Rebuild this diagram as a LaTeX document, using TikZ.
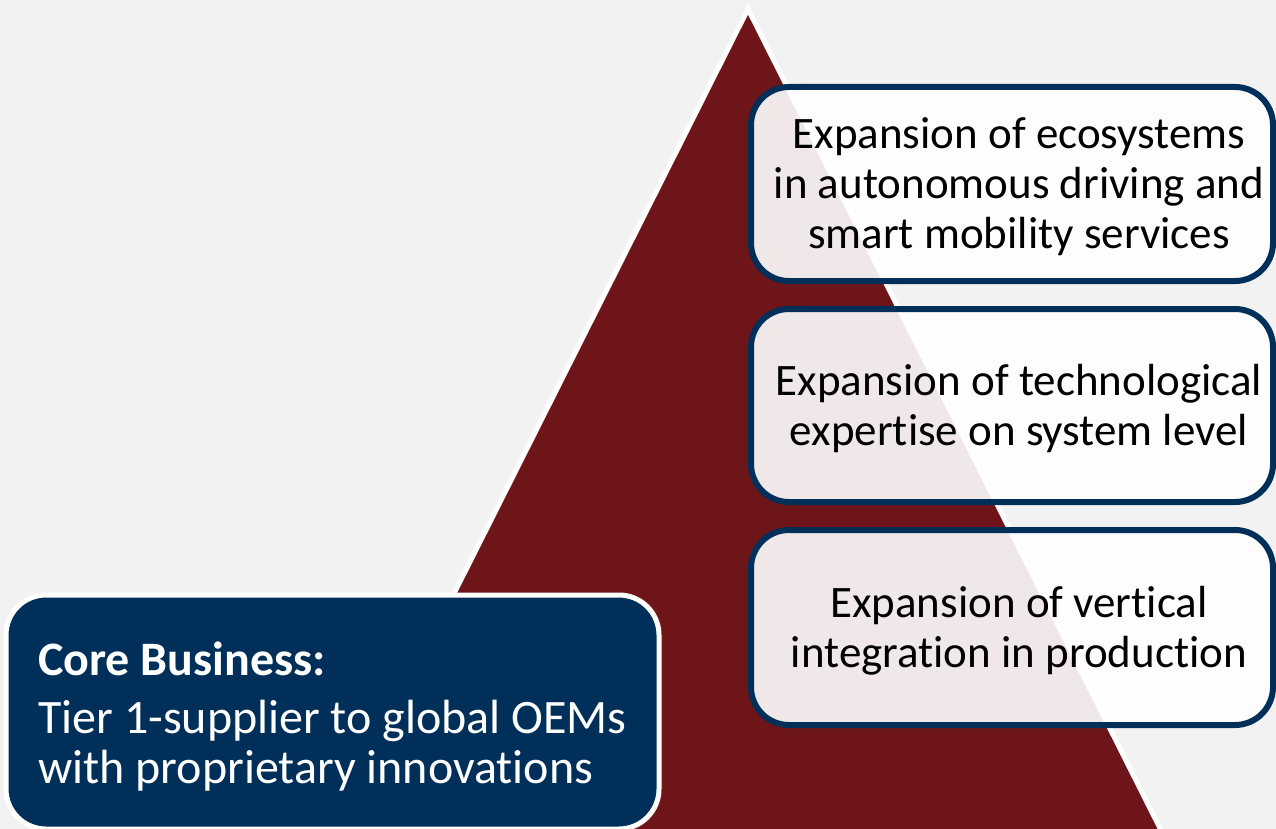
\documentclass[tikz,border=0pt]{standalone}
\usepackage{fontspec}
\setmainfont{Carlito}[RawFeature={-liga}]
\definecolor{bg}{HTML}{F2F2F2}
\definecolor{wine}{HTML}{6D1519}
\definecolor{navy}{HTML}{00305A}
\tikzset{
  levelbox/.style={draw=navy, line width=6pt, fill=white, fill opacity=0.9,
    rounded corners=38pt, minimum width=522pt, inner sep=0pt},
  leveltext/.style={align=center, text=black, inner sep=0pt,
    xshift=7pt, yshift=-3pt, font=\fontsize{45}{50}\selectfont},
  corebox/.style={draw=white, line width=5pt, fill=navy, rounded corners=40pt,
    minimum width=653pt, minimum height=234pt, inner sep=0pt},
  coreline/.style={anchor=base west, text=white, inner sep=0pt,
    font=\fontsize{48}{50}\selectfont},
}
\begin{document}
\begin{tikzpicture}[x=1pt,y=-1pt]
\fill[bg] (0,0) rectangle (1276,829);
\useasboundingbox (0,0) rectangle (1276,829);
\clip (0,0) rectangle (1276,829);
% pyramid
\draw[fill=wine, draw=white, line width=5pt, line join=miter]
  (748,9) -- (1171,850) -- (325,850) -- cycle;
% core business box
\node[corebox] (core) at (332.5,712) {};
\node[coreline] (corehead) at (38,675) {\textbf{Core Business:}};
\node[coreline] (coreone) at (38,733) {Tier 1-supplier to global OEMs};
\node[coreline] (coretwo) at (38,783) {with proprietary innovations};
% expansion levels
\node[levelbox, minimum height=194pt] (eco) at (1012,184) {};
\node[leveltext] (ecotext) at (eco.center)
  {Expansion of ecosystems\\in autonomous driving and\\smart mobility services};
\node[levelbox, minimum height=193pt] (tech) at (1012,405.5) {};
\node[leveltext] (techtext) at (tech.center)
  {Expansion of technological\\expertise on system level};
\node[levelbox, minimum height=195pt] (vert) at (1012,627.5) {};
\node[leveltext] (verttext) at (vert.center)
  {Expansion of vertical\\integration in production};
\end{tikzpicture}
\end{document}
